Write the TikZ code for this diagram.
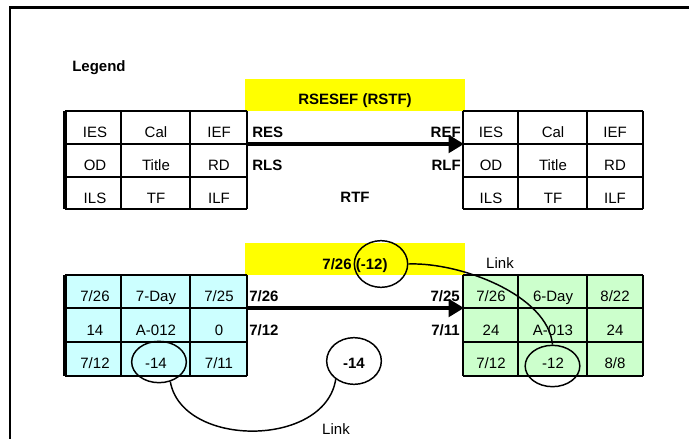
\documentclass[tikz,border=0pt]{standalone}
\usepackage{fontspec}
\setmainfont{Liberation Sans}
\usetikzlibrary{arrows.meta,shapes.geometric}
\definecolor{barYellow}{HTML}{FFFF00}
\definecolor{cellCyan}{HTML}{CCFFFF}
\definecolor{cellGreen}{HTML}{CCFFCC}

\begin{document}
\begin{tikzpicture}[x=0.75pt,y=-0.75pt,
  celltext/.style={anchor=base,inner sep=0pt,font=\fontsize{11.25}{13}\selectfont},
  boldtext/.style={anchor=base,inner sep=0pt,font=\fontsize{11.25}{13}\selectfont\bfseries},
  gridthick/.style={line width=2.2pt},
  gridthin/.style={line width=1.4pt},
  flow/.style={line width=3pt,-{Triangle[length=11.5pt,width=13pt]}},
  ring/.style={ellipse,draw,line width=1.1pt,inner sep=0pt},
  linkline/.style={line width=1.1pt}]

\useasboundingbox (0,0) rectangle (689,439);

% page frame (top and left edges)
\draw[line width=1.6pt] (10,439) -- (10,7.5) -- (689,7.5);

\node[boldtext,anchor=base west] (legendTitle) at (72,71) {Legend};

% ---------- legend block ----------
\fill[barYellow] (245,79) rectangle (465,111);
\node[boldtext] (legBar) at (355,104) {RSESEF (RSTF)};

% left legend table
\foreach \y in {111,144,177,209} \draw[gridthick] (65,\y) -- (247,\y);
\draw[line width=3pt] (65,111) -- (65,209);
\draw[gridthin] (121,111) -- (121,209);
\draw[gridthick] (190,111) -- (190,209);
\draw[gridthin] (247,111) -- (247,209);

% right legend table
\foreach \y in {111,144,177,209} \draw[gridthick] (463,\y) -- (643,\y);
\draw[gridthick] (463,111) -- (463,209);
\draw[gridthick] (518,111) -- (518,209);
\draw[gridthin] (587,111) -- (587,209);
\draw[gridthick] (643,111) -- (643,209);

% legend cell texts
\foreach \a/\b/\c [count=\r from 0] in {IES/Cal/IEF,OD/Title/RD,ILS/TF/ILF}{
  \pgfmathsetmacro{\yb}{137+33*\r}
  \node[celltext] (legL\r a) at (95,\yb) {\a};
  \node[celltext] (legL\r b) at (156,\yb) {\b};
  \node[celltext] (legL\r c) at (219,\yb) {\c};
  \node[celltext] (legR\r a) at (491,\yb) {\a};
  \node[celltext] (legR\r b) at (553,\yb) {\b};
  \node[celltext] (legR\r c) at (615,\yb) {\c};
}

\node[boldtext,anchor=base west] (legRES) at (252,137) {RES};
\node[boldtext,anchor=base east] (legREF) at (461,137) {REF};
\node[boldtext,anchor=base west] (legRLS) at (252,170) {RLS};
\node[boldtext,anchor=base east] (legRLF) at (461,170) {RLF};
\node[boldtext] (legRTF) at (355,202) {RTF};

\coordinate (legFrom) at (247,144);
\coordinate (legTo) at (464,144);
\draw[flow] (legFrom) -- (legTo);

% ---------- example block ----------
\fill[barYellow] (245,243) rectangle (465,275);
\fill[cellCyan] (65,275) rectangle (247,376);
\fill[cellGreen] (463,275) rectangle (643,376);

% left example table
\foreach \y in {275,308,342,376} \draw[gridthick] (65,\y) -- (247,\y);
\draw[line width=3pt] (65,275) -- (65,376);
\draw[gridthin] (121,275) -- (121,376);
\draw[gridthick] (190,275) -- (190,376);
\draw[gridthin] (247,275) -- (247,376);

% right example table
\foreach \y in {275,308,342,376} \draw[gridthick] (463,\y) -- (643,\y);
\draw[gridthick] (463,275) -- (463,376);
\draw[gridthick] (518,275) -- (518,376);
\draw[gridthin] (587,275) -- (587,376);
\draw[gridthick] (643,275) -- (643,376);

% left example cells
\node[celltext] (exL0a) at (95,301) {7/26};
\node[celltext] (exL0b) at (156,301) {7-Day};
\node[celltext] (exL0c) at (219,301) {7/25};
\node[celltext] (exL1a) at (95,335) {14};
\node[celltext] (exL1b) at (156,335) {A-012};
\node[celltext] (exL1c) at (219,335) {0};
\node[celltext] (exL2a) at (95,368) {7/12};
\node[celltext] (exL2b) at (156,368) {-14};
\node[celltext] (exL2c) at (219,368) {7/11};

% right example cells
\node[celltext] (exR0a) at (491,301) {7/26};
\node[celltext] (exR0b) at (553,301) {6-Day};
\node[celltext] (exR0c) at (615,301) {8/22};
\node[celltext] (exR1a) at (491,335) {24};
\node[celltext] (exR1b) at (553,335) {A-013};
\node[celltext] (exR1c) at (615,335) {24};
\node[celltext] (exR2a) at (491,368) {7/12};
\node[celltext] (exR2b) at (553,368) {-12};
\node[celltext] (exR2c) at (615,368) {8/8};

\node[boldtext] (exBar) at (355,269) {7/26 (-12)};
\node[boldtext,anchor=base west] (exES) at (249,301) {7/26};
\node[boldtext,anchor=base east] (exEF) at (460,301) {7/25};
\node[boldtext,anchor=base west] (exLS) at (249,335) {7/12};
\node[boldtext,anchor=base east] (exLF) at (460,335) {7/11};
\node[boldtext] (exFloat) at (354,368) {-14};

\coordinate (exFrom) at (247,308);
\coordinate (exTo) at (464,308);
\draw[flow] (exFrom) -- (exTo);

% rings around the linked values
\node[ring,minimum width=40pt,minimum height=35pt] (ringBar) at (381,264) {};
\node[ring,minimum width=41pt,minimum height=31pt] (ringRight) at (552.5,366) {};
\node[ring,minimum width=41pt,minimum height=31pt] (ringLeft) at (159,362) {};
\node[ring,minimum width=41pt,minimum height=35pt] (ringFloat) at (354,361) {};

% links between rings
\draw[linkline] (ringBar.east) .. controls (460,262) and (548,295) .. (ringRight.north);
\draw[linkline] (ringLeft.-60) .. controls (182,448) and (325,448) .. (ringFloat.-135);

\node[celltext] (linkTop) at (500,268) {Link};
\node[celltext] (linkBottom) at (336,434) {Link};
\end{tikzpicture}
\end{document}
